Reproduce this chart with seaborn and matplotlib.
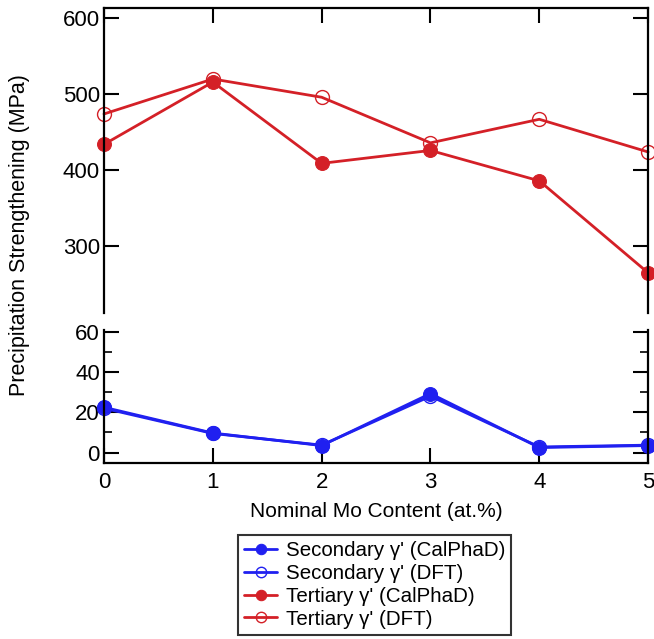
import numpy as np
import matplotlib
matplotlib.use('Agg')
import matplotlib.pyplot as plt
import seaborn as sns
from matplotlib.ticker import MultipleLocator

# dados
mo = [0, 1, 2, 3, 4, 5]
sec_calphad = [22.5, 9.7, 3.5, 29.3, 2.5, 3.5]
sec_dft = [22.0, 9.5, 3.7, 28.0, 2.8, 3.7]
ter_calphad = [434, 516, 409, 426, 386, 265]
ter_dft = [474, 520, 496, 436, 467, 424]

blue = '#2020f0'
red = '#d42027'

sns.set_style('ticks')
plt.rcParams['font.family'] = ['Liberation Sans', 'DejaVu Sans']
plt.rcParams['text.color'] = 'black'
plt.rcParams['xtick.color'] = 'black'
plt.rcParams['ytick.color'] = 'black'
plt.rcParams['axes.labelcolor'] = 'black'

fig = plt.figure(figsize=(6.54, 6.39), dpi=100)
ax_top = fig.add_axes([0.159, 0.510, 0.832, 0.477])
ax_bot = fig.add_axes([0.159, 0.275, 0.832, 0.209])

lw = 2.0
ms = 10

# painel superior (terciário)
sns.lineplot(x=mo, y=ter_dft, ax=ax_top, color=red, lw=lw, marker='o', markersize=ms,
             markerfacecolor='none', markeredgecolor=red, markeredgewidth=1.0,
             label="Tertiary \u03b3' (DFT)", clip_on=False)
sns.lineplot(x=mo, y=ter_calphad, ax=ax_top, color=red, lw=lw, marker='o', markersize=ms,
             markeredgecolor=red, label="Tertiary \u03b3' (CalPhaD)", clip_on=False)

# painel inferior (secundário)
sns.lineplot(x=mo, y=sec_dft, ax=ax_bot, color=blue, lw=lw, marker='o', markersize=ms,
             markerfacecolor='none', markeredgecolor=blue, markeredgewidth=1.0,
             label="Secondary \u03b3' (DFT)", clip_on=False)
sns.lineplot(x=mo, y=sec_calphad, ax=ax_bot, color=blue, lw=lw, marker='o', markersize=ms,
             markeredgecolor=blue, label="Secondary \u03b3' (CalPhaD)", clip_on=False)

for ax in (ax_top, ax_bot):
    ax.set_xlim(0, 5)
    ax.set_xlabel('')
    ax.set_ylabel('')
    ax.get_legend().remove()
    for s in ax.spines.values():
        s.set_linewidth(1.6)
        s.set_color('black')

ax_top.set_ylim(212, 613)
ax_top.set_yticks([300, 400, 500, 600])
ax_top.spines['bottom'].set_visible(False)
ax_top.spines['right'].set_visible(True)
ax_top.spines['top'].set_visible(True)
ax_top.xaxis.set_ticks_position('top')
ax_top.set_xticks(mo)
ax_top.tick_params(axis='x', direction='in', length=11, width=1.5, labeltop=False, labelbottom=False)
ax_top.tick_params(axis='y', direction='in', length=11, width=1.5, left=True, right=True,
                   labelsize=16, pad=3)

ax_bot.set_ylim(-5.3, 61)
ax_bot.set_yticks([0, 20, 40, 60])
ax_bot.yaxis.set_minor_locator(MultipleLocator(10))
ax_bot.spines['top'].set_visible(False)
ax_bot.spines['right'].set_visible(True)
ax_bot.set_xticks(mo)
ax_bot.tick_params(axis='x', direction='in', length=11, width=1.5, top=False, labelsize=16, pad=6)
ax_bot.tick_params(axis='y', which='major', direction='in', length=11, width=1.5, left=True, right=True,
                   labelsize=16, pad=3)
ax_bot.tick_params(axis='y', which='minor', direction='in', length=6, width=1.2, left=True, right=True)

fig.text(0.575, 0.199, 'Nominal Mo Content (at.%)', ha='center', va='center', fontsize=15)
fig.text(0.030, 0.632, 'Precipitation Strengthening (MPa)', ha='center', va='center',
         rotation=90, fontsize=15.5)

h_top, l_top = ax_top.get_legend_handles_labels()
h_bot, l_bot = ax_bot.get_legend_handles_labels()
handles = [h_bot[1], h_bot[0], h_top[1], h_top[0]]
labels = [l_bot[1], l_bot[0], l_top[1], l_top[0]]
leg = fig.legend(handles, labels, loc='center', bbox_to_anchor=(0.573, 0.0845),
                 fontsize=14.8, frameon=True, fancybox=False, handlelength=1.6,
                 handletextpad=0.4, labelspacing=0.18, borderpad=0.3, markerscale=0.75)
leg.get_frame().set_edgecolor('black')
leg.get_frame().set_linewidth(1.5)

fig.savefig('out.png', dpi=100)
